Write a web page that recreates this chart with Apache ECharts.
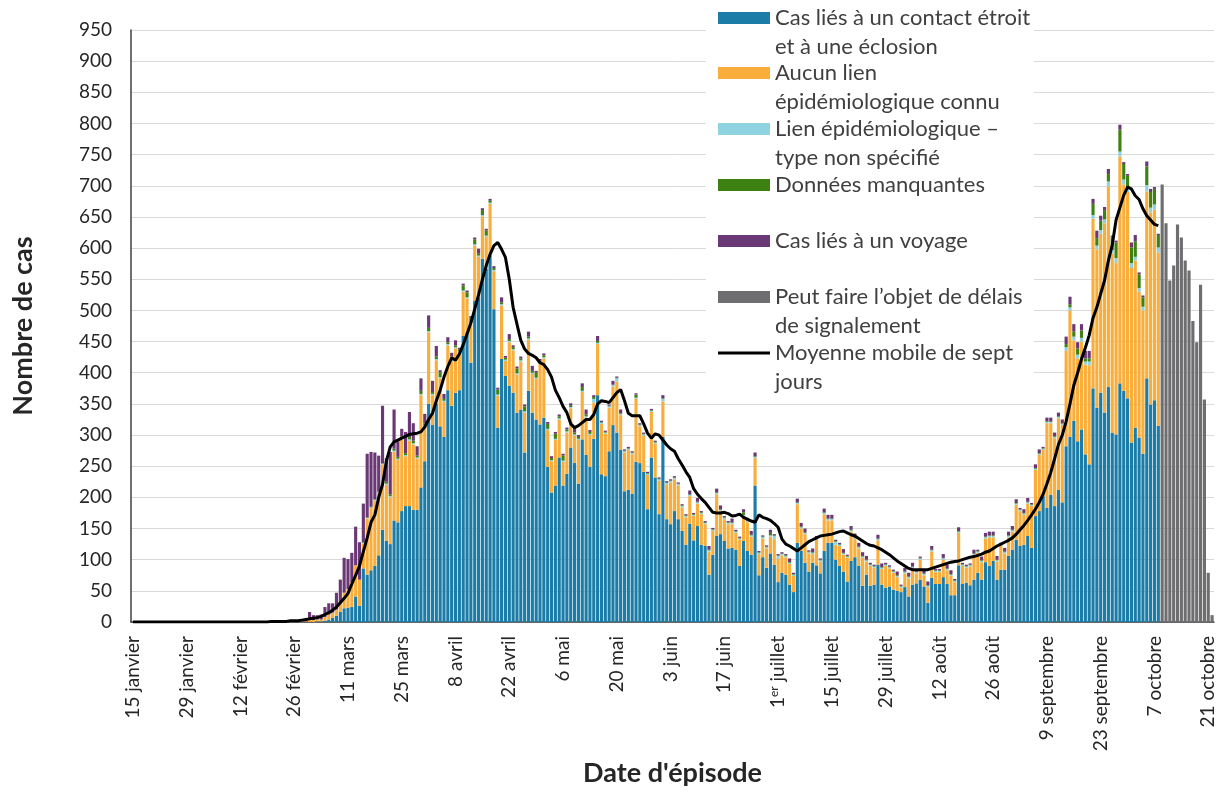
<!DOCTYPE html>
<html>
<head>
<meta charset="utf-8">
<script src="https://cdn.jsdelivr.net/npm/echarts@6.0.0/dist/echarts.min.js"></script>
<style>
  html, body { margin: 0; padding: 0; background: #fff; }
  #chart { width: 1225px; height: 795px; }
</style>
</head>
<body>
<div id="chart"></div>
<script>
// une catégorie par jour, du 15 janvier au 22 octobre 2020
var days = [];
for (var k = 0; k < 282; k++) {
  var d = new Date(2020, 0, 15 + k);
  days.push(d.getFullYear() + '-' + (d.getMonth() + 1) + '-' + d.getDate());
}

var tickLabels = ['15 janvier', '29 janvier', '12 février', '26 février', '11 mars', '25 mars',
  '8 avril', '22 avril', '6 mai', '20 mai', '3 juin', '17 juin', '1er juillet', '15 juillet',
  '29 juillet', '12 août', '26 août', '9 septembre', '23 septembre', '7 octobre', '21 octobre'];

// Cas liés à un contact étroit et à une éclosion
var contactCases = [
  0,0,0,0,0,0,0,0,0,0, 0,0,0,0,0,0,0,0,0,0, 0,0,0,0,0,0,0,0,0,0, 0,0,0,0,0,0,0,0,0,0, 0,0,
  0,0,0,0,0,0,1,1,2,4, 7,10,16,22,23,24,41,26,86,76, 83,90,107,148,130,125,163,160,178,186, 186,180,180,216,258,350,316,350,
  314,297,372,347,368,372,459,465,416,515,
  521,583,567,588,502,312,422,395,379,368,
  336,341,272,371,336,325,317,328,249,208,
  219,264,219,238,280,255,222,293,268,249,
  294,364,237,234,274,316,304,276,210,212,
  206,257,255,241,181,264,232,173,297,165,
  157,178,165,146,124,158,131,154,124,122,
  76,108,138,141,130,118,119,116,90,130,
  114,108,219,75,104,87,110,92,64,79,
  76,60,48,127,114,95,81,95,91,78,
  114,127,127,100,90,81,65,98,104,90,
  58,76,58,60,92,60,55,57,52,50,
  48,56,41,60,62,68,57,31,71,61,
  61,72,61,43,43,91,61,63,59,68,
  79,68,96,90,98,68,84,84,106,116,
  132,122,124,138,119,170,178,202,183,204,
  186,212,192,282,297,323,290,309,269,253,
  375,344,368,336,377,304,301,383,371,359,
  288,312,296,270,391,349,356,315
];

// Aucun lien épidémiologique connu
var unknownLink = [
  0,0,0,0,0,0,0,0,0,0, 0,0,0,0,0,0,0,0,0,0, 0,0,0,0,0,0,0,0,0,0, 0,0,0,0,0,0,0,0,0,1, 0,1,
  0,1,1,1,4,3,3,3,6,8, 8,10,15,25,30,40,50,42,40,90, 100,105,100,105,90,75,110,100,115,80, 105,105,82,148,55,115,48,70,
  77,56,72,71,71,60,71,54,62,89,
  65,68,51,83,61,51,86,24,70,68,
  61,77,64,82,62,65,97,95,59,50,
  73,61,38,66,63,44,70,76,60,51,
  58,82,81,68,70,62,82,56,62,64,
  63,101,59,58,55,73,54,54,57,56,
  67,51,54,38,44,44,39,36,49,35,
  37,38,67,37,35,39,38,27,42,40,
  46,29,44,34,30,31,27,41,37,28,
  28,33,26,62,36,46,29,14,42,19,
  59,36,36,24,32,27,38,47,29,28,
  45,21,32,27,39,25,35,29,27,22,
  7,22,29,26,16,32,18,25,42,19,
  19,28,22,31,21,52,29,24,30,39,
  32,28,38,46,38,29,38,26,30,29,
  56,56,48,52,67,74,90,74,136,115,
  109,115,124,153,203,129,133,141,144,159,
  272,254,255,304,322,287,275,364,331,331,
  280,268,234,230,300,308,306,278
];

// Lien épidémiologique – type non spécifié
var unspecifiedLink = [
  0,0,0,0,0,0,0,0,0,0, 0,0,0,0,0,0,0,0,0,0, 0,0,0,0,0,0,0,0,0,0, 0,0,0,0,0,0,0,0,0,0, 0,0,
  0,0,0,0,0,0,0,0,0,0, 0,0,0,0,0,0,0,0,1,1, 1,1,1,1,2,2,2,2,2,2, 2,2,2,2,2,2,2,2,
  2,2,2,2,2,2,2,2,2,2, 2,2,2,2,2,2,2,2,2,2, 2,2,2,2,2,2,2,2,2,2, 2,2,2,2,2,2,2,2,2,2,
  6,2,2,2,2,2,5,2,2,2,
  2,2,2,2,2,2,2,2,4,2,
  2,2,2,2,2,2,2,2,2,2,
  2,2,2,2,2,2,2,2,2,2,
  2,2,2,2,2,2,2,5,5,2,
  2,2,2,2,2,2,2,2,2,2,
  2,2,2,5,2,2,2,2,2,2,
  2,2,2,2,2,2,2,2,2,2,
  2,2,2,2,2,2,2,2,2,2,
  2,2,2,2,2,2,2,2,2,2,
  2,2,2,2,2,2,2,2,2,2,
  2,2,2,2,2,2,2,2,2,2,
  2,2,2,6,5,6,6,6,5,6,
  6,6,6,6,8,6,8,8,8,6,
  8,6,6,6,10,8,8,8
];

// Données manquantes
var missingData = [
  0,0,0,0,0,0,0,0,0,0, 0,0,0,0,0,0,0,0,0,0, 0,0,0,0,0,0,0,0,0,0, 0,0,0,0,0,0,0,0,0,0, 0,0,
  0,0,0,0,0,0,0,0,0,0, 0,0,0,0,0,0,0,0,1,1, 1,1,1,1,3,3,3,3,3,3, 4,4,3,5,4,5,3,4,
  8,3,3,6,3,3,8,8,8,8,
  3,8,8,3,3,8,3,3,3,3,
  8,3,8,3,3,8,3,3,8,3,
  8,3,8,3,3,3,3,6,3,3,
  3,3,1,1,1,1,1,1,1,1,
  1,5,1,1,1,1,1,1,1,1,
  1,1,1,1,1,1,1,1,1,1,
  1,1,1,1,1,1,1,1,1,4,
  1,1,1,1,1,1,4,1,1,1,
  1,1,1,1,1,1,1,1,1,1,
  1,1,1,1,1,1,1,1,1,1,
  1,1,1,1,1,1,1,1,1,1,
  1,1,1,1,1,1,1,1,1,1,
  1,1,1,1,1,1,1,1,1,1,
  1,1,1,1,1,1,1,1,1,1,
  1,1,1,1,1,1,1,1,1,1,
  1,1,1,5,5,8,10,12,5,5,
  18,12,15,15,12,20,25,35,25,20,
  25,25,22,15,30,25,25,20
];

// Cas liés à un voyage
var travelCases = [
  0,0,0,0,0,0,0,0,0,0, 1,0,0,0,1,0,0,1,0,0, 0,0,1,0,0,0,0,1,0,0, 0,0,0,1,0,0,1,0,1,1, 2,2,
  2,2,3,4,12,8,7,8,16,18, 15,27,37,56,48,47,62,60,62,102, 88,75,58,92,38,68,63,25,12,34, 40,28,15,20,15,20,18,17,
  3,8,8,6,8,3,3,3,3,3,
  8,3,3,3,3,3,8,3,8,3,
  3,3,3,8,8,3,3,3,3,3,
  3,3,3,3,3,8,3,6,8,3,
  3,8,2,2,2,6,2,6,2,2,
  2,2,2,2,2,2,2,2,5,2,
  2,2,2,2,2,6,2,6,2,2,
  6,2,6,6,2,2,6,2,2,5,
  2,6,6,2,2,2,5,2,2,2,
  2,6,2,6,6,6,2,6,2,2,
  6,6,6,2,2,6,2,6,6,6,
  6,6,2,2,6,6,2,2,2,6,
  2,6,6,6,2,2,6,6,6,2,
  2,6,6,6,2,6,2,2,2,6,
  2,6,6,6,6,6,2,6,6,6,
  6,2,6,6,2,6,6,2,6,6,
  6,6,6,12,12,12,10,10,12,12,
  8,12,8,5,8,3,3,8,3,3,
  8,10,3,3,8,5,3,2
];

// Peut faire l'objet de délais de signalement (à partir du 9 octobre)
var delayStart = 268;
var delayedCases = [702, 640, 548, 572, 638, 617, 580, 564, 483, 449, 541, 357, 79, 11];

// Moyenne mobile de sept jours
var movingAvg = [
  0,0,0,0,0,0,0,0,0,0, 0,0,0,0,0,0,0,0,0,0, 0,0,0,0,0,0,0,0,0,0, 0,0,0,0,0,0,
  1,1,1,1,1,2,2,2,3,4,
  5,6,7,9,12,15,19,24,31,38,
  46,61,75,90,113,135,160,172,200,221,
  258,281,289,292,295,298,301,302,303,305,
  313,325,335,355,372,393,410,424,420,430,
  445,462,480,502,525,550,572,590,604,609,
  598,585,550,505,478,452,438,431,428,424,
  416,413,405,393,372,360,346,336,318,312,
  315,320,325,325,333,350,
  355,354,352,360,368,373,355,335,331,331,
  331,318,303,295,302,300,292,284,278,274,
  262,252,241,232,214,205,198,192,184,176,
  175,175,176,174,170,171,173,168,165,162,
  160,172,
  168,166,163,158,152,133,125,122,118,114,
  119,124,129,132,135,138,139,140,141,143,
  145,146,143,140,138,134,130,126,123,122,
  119,116,112,108,103,98,94,90,86,84,
  84,84,84,84,86,88,90,92,94,96,
  97,98,100,102,104,105,107,109,112,114,
  118,122,125,128,131,135,141,148,155,163,
  172,181,192,205,222,240,262,285,300,322,
  350,380,400,422,440,460,488,505,527,548,
  580,605,645,665,685,698,695,684,678,663,
  652,645,638,636
];

var seriesNames = [
  'Cas liés à un contact étroit\net à une éclosion',
  'Aucun lien\népidémiologique connu',
  'Lien épidémiologique –\ntype non spécifié',
  'Données manquantes',
  'Cas liés à un voyage',
  'Peut faire l\u2019objet de délais\nde signalement',
  'Moyenne mobile de sept\njours'
];
var seriesColors = ['#1b7ca8', '#f9ae3b', '#8ed3df', '#3d8113', '#6a3874', '#6e6e70', '#000000'];
// centre vertical de la première ligne de chaque entrée de légende
var legendRows = [18, 73, 129, 185, 241, 297, 353];

var delayedData = days.map(function (d, i) {
  return i >= delayStart ? delayedCases[i - delayStart] : null;
});

// une légende par ligne de texte : l'icône reste sur la première ligne
var legends = [];
seriesNames.forEach(function (name, i) {
  var lines = name.split('\n');
  lines.forEach(function (line, j) {
    legends.push({
      left: 718,
      top: legendRows[i] + j * 28.5 - 14,
      padding: 0,
      data: [name],
      selectedMode: false,
      icon: 'rect',
      itemWidth: 52,
      itemHeight: i === 6 ? 3 : 12,
      itemGap: 0,
      itemStyle: j > 0 ? { opacity: 0 } : {},
      lineStyle: j > 0 ? { opacity: 0 } : {},
      formatter: function () { return line; },
      textStyle: { fontFamily: 'Lato', fontSize: 22, color: '#404040', lineHeight: 28 }
    });
  });
});

function barSerie(i, values) {
  return {
    name: seriesNames[i],
    type: 'bar',
    stack: 'cas',
    barCategoryGap: '18%',
    itemStyle: { color: seriesColors[i] },
    data: values
  };
}

var option = {
  animation: false,
  textStyle: { fontFamily: 'Lato' },
  color: seriesColors,
  grid: { left: 131, right: 11, top: 30, bottom: 173 },
  graphic: [{
    type: 'rect',
    left: 706,
    top: 0,
    z: 1,
    shape: { width: 328, height: 395 },
    style: { fill: '#ffffff' }
  }],
  legend: legends,
  xAxis: {
    type: 'category',
    data: days,
    boundaryGap: true,
    name: 'Date d\'épisode',
    nameLocation: 'middle',
    nameGap: 138,
    nameTextStyle: { fontSize: 27, fontWeight: 'bold', color: '#262626' },
    axisLine: { lineStyle: { color: '#404040', width: 1.5 } },
    axisTick: { interval: 13, length: 6, lineStyle: { color: '#404040' } },
    axisLabel: {
      interval: 13,
      rotate: 90,
      margin: 14,
      fontSize: 19,
      color: '#262626',
      formatter: function (val, idx) {
        var lab = tickLabels[Math.round(idx / 14)] || '';
        if (lab.indexOf('1er') === 0) {
          return '{n|1}{sup|er}{n|' + lab.slice(3) + '}';
        }
        return lab;
      },
      rich: {
        n: { fontSize: 19, color: '#262626', fontFamily: 'Lato' },
        sup: { fontSize: 12, color: '#262626', fontFamily: 'Lato', verticalAlign: 'top', padding: [0, 0, 7, 0] }
      }
    }
  },
  yAxis: {
    type: 'value',
    min: 0,
    max: 950,
    interval: 50,
    name: 'Nombre de cas',
    nameLocation: 'middle',
    nameGap: 94,
    nameTextStyle: { fontSize: 27, fontWeight: 'bold', color: '#262626' },
    axisLine: { show: true, lineStyle: { color: '#404040', width: 1.5 } },
    axisTick: { show: false },
    axisLabel: { fontSize: 19, margin: 19, color: '#262626' },
    splitLine: { lineStyle: { color: '#d9d9d9', width: 1 } }
  },
  series: [
    barSerie(0, contactCases),
    barSerie(1, unknownLink),
    barSerie(2, unspecifiedLink),
    barSerie(3, missingData),
    barSerie(4, travelCases),
    barSerie(5, delayedData),
    {
      name: seriesNames[6],
      type: 'line',
      data: movingAvg,
      symbol: 'none',
      showSymbol: false,
      z: 5,
      lineStyle: { color: '#000', width: 3 },
      itemStyle: { color: '#000' }
    }
  ]
};

var chart = echarts.init(document.getElementById('chart'));
chart.setOption(option);
</script>
</body>
</html>
